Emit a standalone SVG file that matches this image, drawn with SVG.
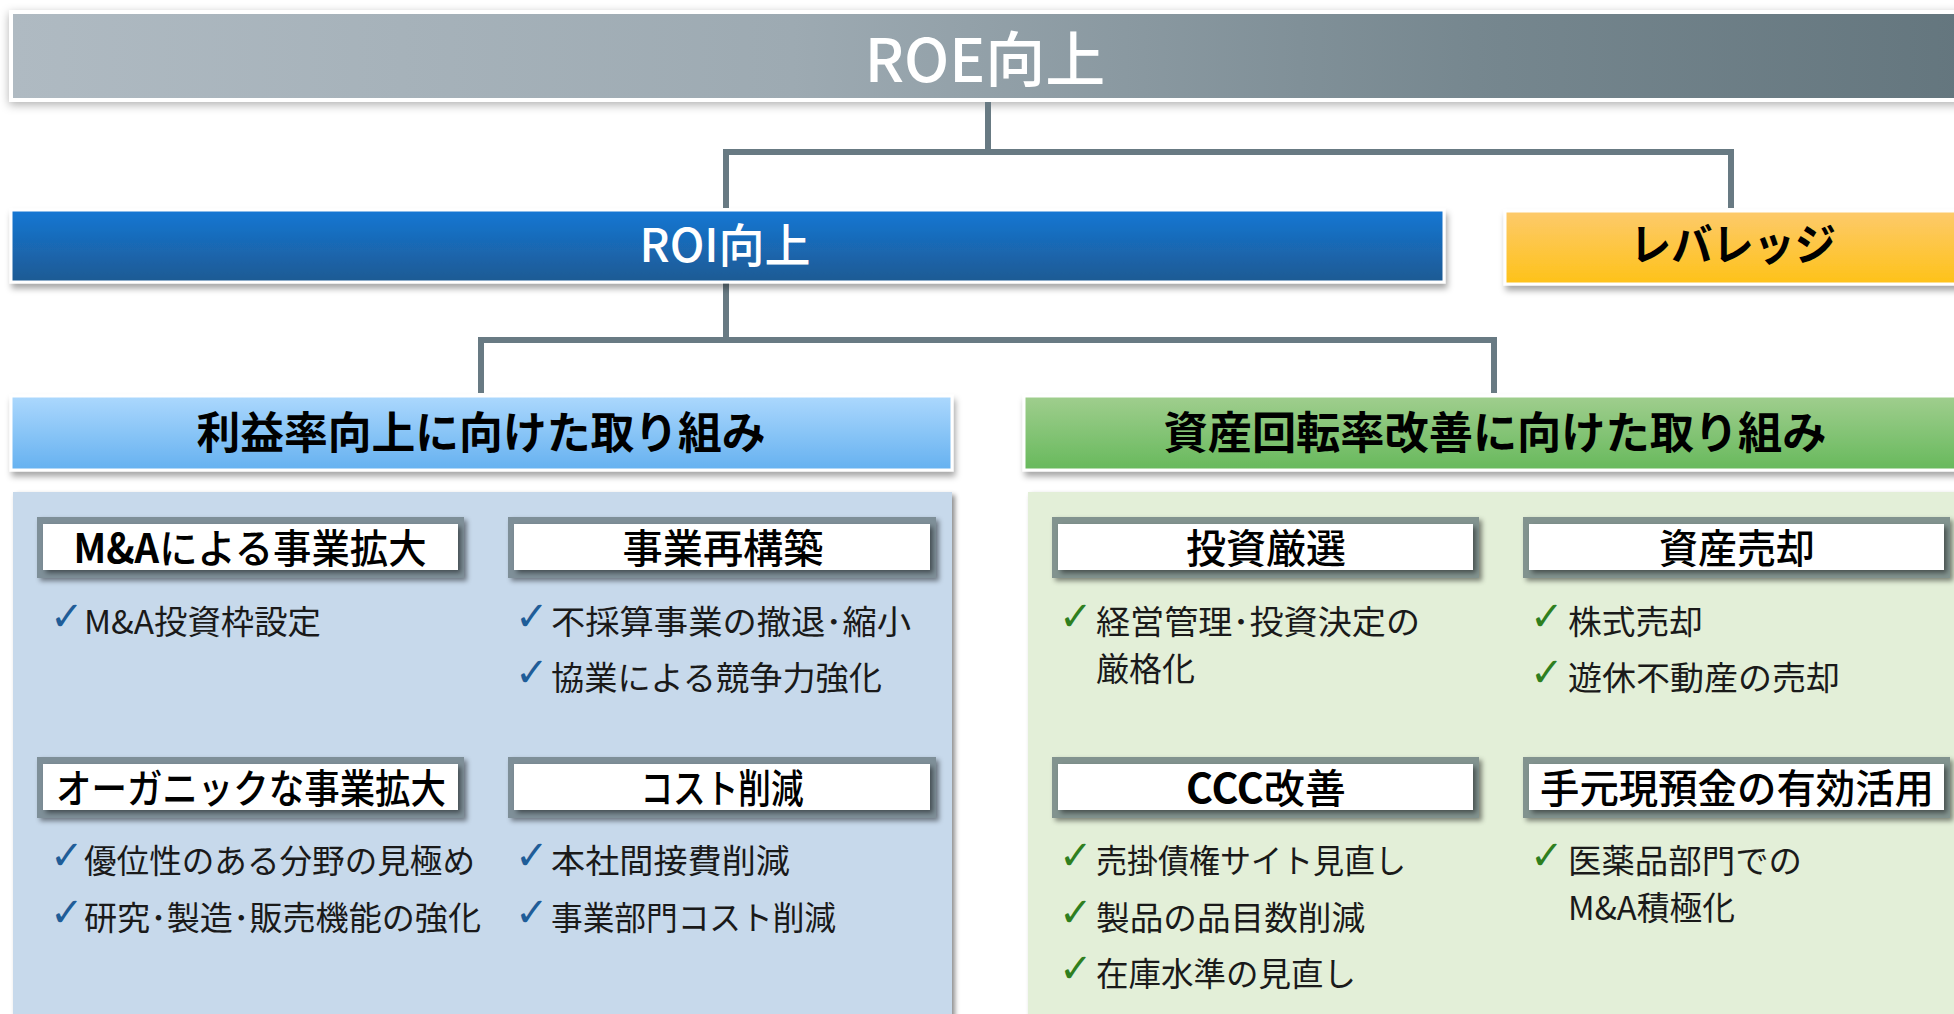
<svg xmlns="http://www.w3.org/2000/svg" width="1954" height="1014" viewBox="0 0 1954 1014">
<defs>
<linearGradient id="gRoe" x1="0" y1="0" x2="1" y2="0"><stop offset="0" stop-color="#afbac2"/><stop offset="0.4" stop-color="#9daab2"/><stop offset="0.75" stop-color="#76878f"/><stop offset="1" stop-color="#64767e"/></linearGradient>
<linearGradient id="gRoi" x1="0" y1="0" x2="0" y2="1"><stop offset="0" stop-color="#1677d4"/><stop offset="1" stop-color="#1d5a93"/></linearGradient>
<linearGradient id="gLev" x1="0" y1="0" x2="0" y2="1"><stop offset="0" stop-color="#fdca6c"/><stop offset="1" stop-color="#fec218"/></linearGradient>
<linearGradient id="gBlue" x1="0" y1="0" x2="0" y2="1"><stop offset="0" stop-color="#acd8fd"/><stop offset="1" stop-color="#65b1f0"/></linearGradient>
<linearGradient id="gGreen" x1="0" y1="0" x2="0" y2="1"><stop offset="0" stop-color="#a0ce8e"/><stop offset="1" stop-color="#67b95c"/></linearGradient>
<filter id="sh" x="-5%" y="-30%" width="110%" height="170%"><feDropShadow dx="2" dy="5" stdDeviation="3" flood-color="#000" flood-opacity="0.35"/></filter>
<filter id="shTop" x="-5%" y="-40%" width="110%" height="180%"><feDropShadow dx="0" dy="3" stdDeviation="5" flood-color="#000" flood-opacity="0.3"/></filter>
<filter id="shS" x="-5%" y="-20%" width="110%" height="150%"><feDropShadow dx="3" dy="3" stdDeviation="2.5" flood-color="#000" flood-opacity="0.45"/></filter>
</defs>
<style>
text{font-family:"Noto Sans CJK JP","Noto Sans",sans-serif;}
.bar{stroke:#fff;stroke-width:3;}
.white{fill:#fff;font-weight:500;}
.title{fill:#000;font-weight:bold;font-size:44px;text-anchor:middle;}
.frame{fill:#7e8f98;}
.frameG{fill:#82938f;}
.inner{fill:#fff;}
.head{fill:#000;font-size:40px;font-weight:500;text-anchor:middle;}
.item{fill:#1a1a1a;font-size:33px;}
.ckB{fill:#1f5d98;font-family:"DejaVu Sans",sans-serif;font-size:40px;font-weight:bold;}
.ckG{fill:#2f7f1f;font-family:"DejaVu Sans",sans-serif;font-size:40px;font-weight:bold;}
.conn{fill:none;stroke:#687a83;stroke-width:6;}
</style>
<rect x="0" y="0" width="1954" height="1014" fill="#fff"/>

<g id="roe">
<rect x="9" y="10" width="1960" height="92" fill="#fff" filter="url(#shTop)"/>
<rect x="13" y="14" width="1950" height="84" fill="url(#gRoe)"/>
<text x="985" y="82" class="white" font-size="60" text-anchor="middle">ROE向上</text>
</g>

<g id="connectors">
<path class="conn" d="M988 102 V152 M726 208 V152 H1731 V208"/>
<path class="conn" d="M726 283 V340 M481 393 V340 H1494 V393"/>
</g>

<g id="roi">
<rect x="11" y="210" width="1433" height="72" fill="url(#gRoi)" class="bar" filter="url(#sh)"/>
<text x="725" y="262" class="white" font-size="46" text-anchor="middle">ROI向上</text>
</g>

<g id="leverage">
<rect x="1505" y="211" width="460" height="73" fill="url(#gLev)" class="bar" filter="url(#sh)"/>
<text x="1733" y="261" font-size="44" font-weight="bold" text-anchor="middle" fill="#000" textLength="206" lengthAdjust="spacingAndGlyphs">レバレッジ</text>
</g>

<g id="profit">
<rect x="11" y="396" width="941" height="74" fill="url(#gBlue)" class="bar" filter="url(#sh)"/>
<text x="481" y="449" class="title" textLength="569" lengthAdjust="spacingAndGlyphs">利益率向上に向けた取り組み</text>
</g>

<g id="asset">
<rect x="1024" y="396" width="940" height="74" fill="url(#gGreen)" class="bar" filter="url(#sh)"/>
<text x="1495" y="449" class="title" textLength="663" lengthAdjust="spacingAndGlyphs">資産回転率改善に向けた取り組み</text>
</g>

<g id="profit-panel">
<rect x="13" y="492" width="939" height="530" fill="#c7d9eb" filter="url(#shS)"/>
</g>
<g id="asset-panel">
<rect x="1028" y="492" width="930" height="530" fill="#e3efd8" filter="url(#shS)"/>
</g>

<g id="ma-expand">
<rect x="37" y="517" width="427" height="61" class="frame" filter="url(#shS)"/>
<rect x="43" y="524" width="415" height="46" class="inner" filter="url(#shS)"/>
<text x="250" y="563" class="head" textLength="353" lengthAdjust="spacingAndGlyphs"><tspan font-weight="bold">M&amp;A</tspan>による事業拡大</text>
<text x="50" y="630" class="ckB">✓</text>
<text x="84" y="634" class="item" textLength="237" lengthAdjust="spacingAndGlyphs">M&amp;A投資枠設定</text>
</g>

<g id="restructure">
<rect x="508" y="517" width="428" height="61" class="frame" filter="url(#shS)"/>
<rect x="514" y="524" width="416" height="46" class="inner" filter="url(#shS)"/>
<text x="723" y="563" class="head" textLength="201" lengthAdjust="spacingAndGlyphs">事業再構築</text>
<text x="515" y="630" class="ckB">✓</text>
<text x="551" y="634" class="item" textLength="360" lengthAdjust="spacingAndGlyphs">不採算事業の撤退･縮小</text>
<text x="515" y="686" class="ckB">✓</text>
<text x="551" y="690" class="item" textLength="331" lengthAdjust="spacingAndGlyphs">協業による競争力強化</text>
</g>

<g id="organic">
<rect x="37" y="757" width="427" height="61" class="frame" filter="url(#shS)"/>
<rect x="43" y="764" width="415" height="46" class="inner" filter="url(#shS)"/>
<text x="251" y="803" class="head" textLength="390" lengthAdjust="spacingAndGlyphs">オーガニックな事業拡大</text>
<text x="50" y="869" class="ckB">✓</text>
<text x="84" y="873" class="item" textLength="391" lengthAdjust="spacingAndGlyphs">優位性のある分野の見極め</text>
<text x="50" y="926" class="ckB">✓</text>
<text x="84" y="930" class="item" textLength="397" lengthAdjust="spacingAndGlyphs">研究･製造･販売機能の強化</text>
</g>

<g id="cost">
<rect x="508" y="757" width="428" height="61" class="frame" filter="url(#shS)"/>
<rect x="514" y="764" width="416" height="46" class="inner" filter="url(#shS)"/>
<text x="722" y="803" class="head" textLength="163" lengthAdjust="spacingAndGlyphs">コスト削減</text>
<text x="515" y="869" class="ckB">✓</text>
<text x="551" y="873" class="item" textLength="239" lengthAdjust="spacingAndGlyphs">本社間接費削減</text>
<text x="515" y="926" class="ckB">✓</text>
<text x="551" y="930" class="item" textLength="285" lengthAdjust="spacingAndGlyphs">事業部門コスト削減</text>
</g>

<g id="invest">
<rect x="1052" y="517" width="427" height="61" class="frameG" filter="url(#shS)"/>
<rect x="1058" y="524" width="415" height="46" class="inner" filter="url(#shS)"/>
<text x="1266" y="563" class="head" textLength="160" lengthAdjust="spacingAndGlyphs">投資厳選</text>
<text x="1059" y="630" class="ckG">✓</text>
<text x="1096" y="634" class="item" textLength="324" lengthAdjust="spacingAndGlyphs">経営管理･投資決定の</text>
<text x="1096" y="681" class="item" textLength="99" lengthAdjust="spacingAndGlyphs">厳格化</text>
</g>

<g id="asset-sale">
<rect x="1523" y="517" width="427" height="61" class="frameG" filter="url(#shS)"/>
<rect x="1529" y="524" width="415" height="46" class="inner" filter="url(#shS)"/>
<text x="1737" y="563" class="head" textLength="156" lengthAdjust="spacingAndGlyphs">資産売却</text>
<text x="1530" y="630" class="ckG">✓</text>
<text x="1568" y="634" class="item" textLength="135" lengthAdjust="spacingAndGlyphs">株式売却</text>
<text x="1530" y="686" class="ckG">✓</text>
<text x="1568" y="690" class="item" textLength="272" lengthAdjust="spacingAndGlyphs">遊休不動産の売却</text>
</g>

<g id="ccc">
<rect x="1052" y="757" width="427" height="61" class="frameG" filter="url(#shS)"/>
<rect x="1058" y="764" width="415" height="46" class="inner" filter="url(#shS)"/>
<text x="1266" y="803" class="head" textLength="160" lengthAdjust="spacingAndGlyphs"><tspan font-weight="bold">CCC</tspan>改善</text>
<text x="1059" y="869" class="ckG">✓</text>
<text x="1096" y="873" class="item" textLength="310" lengthAdjust="spacingAndGlyphs">売掛債権サイト見直し</text>
<text x="1059" y="926" class="ckG">✓</text>
<text x="1096" y="930" class="item" textLength="269" lengthAdjust="spacingAndGlyphs">製品の品目数削減</text>
<text x="1059" y="982" class="ckG">✓</text>
<text x="1096" y="986" class="item" textLength="260" lengthAdjust="spacingAndGlyphs">在庫水準の見直し</text>
</g>

<g id="cash">
<rect x="1523" y="757" width="427" height="61" class="frameG" filter="url(#shS)"/>
<rect x="1529" y="764" width="415" height="46" class="inner" filter="url(#shS)"/>
<text x="1737" y="803" class="head" textLength="394" lengthAdjust="spacingAndGlyphs">手元現預金の有効活用</text>
<text x="1530" y="869" class="ckG">✓</text>
<text x="1568" y="873" class="item" textLength="234" lengthAdjust="spacingAndGlyphs">医薬品部門での</text>
<text x="1568" y="920" class="item" textLength="167" lengthAdjust="spacingAndGlyphs">M&amp;A積極化</text>
</g>
</svg>
